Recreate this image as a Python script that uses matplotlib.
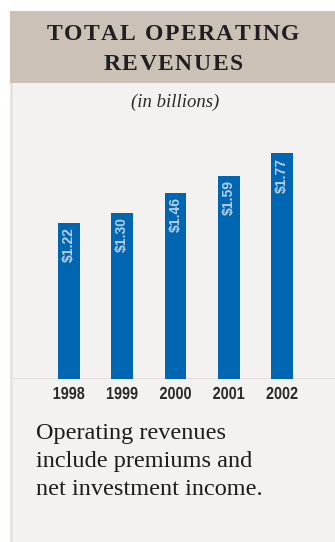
import matplotlib.pyplot as plt
from matplotlib.patches import Rectangle, PathPatch
from matplotlib.textpath import TextPath
from matplotlib.font_manager import FontProperties
from matplotlib.transforms import Affine2D, ScaledTranslation

years = ['1998', '1999', '2000', '2001', '2002']
revenues = [1.22, 1.30, 1.46, 1.59, 1.77]
title_lines = ['TOTAL OPERATING', 'REVENUES']
subtitle = '(in billions)'
note_lines = ['Operating revenues', 'include premiums and', 'net investment income.']

W, H = 335, 542
SERIF = ['Liberation Serif', 'DejaVu Serif']
SANS = ['Liberation Sans', 'DejaVu Sans']

fig = plt.figure(figsize=(W / 100, H / 100), dpi=100)
fig.patch.set_facecolor('white')


def fx(x):
    return x / W


def fy(y):
    return 1 - y / H


# panel background, header band and the thin rule down the left side
fig.add_artist(Rectangle((fx(10), 0), 1 - fx(10), fy(11), transform=fig.transFigure,
                         color='#f4f2f0', lw=0, zorder=0))
fig.add_artist(Rectangle((fx(10), fy(83)), 1 - fx(10), fy(11) - fy(83), transform=fig.transFigure,
                         color='#cbc1b6', lw=0, zorder=0))
fig.add_artist(Rectangle((fx(10), 0), fx(3), fy(83), transform=fig.transFigure,
                         color='#e8e3de', lw=0, zorder=0))


def tracked_text(s, xc, y, spacing, **kw):
    # draw a string letter by letter with extra space between the letters
    r = fig.canvas.get_renderer()

    def width(txt):
        t = fig.text(0, 0, txt, **kw)
        w = t.get_window_extent(r).width
        t.remove()
        return w

    widths = []
    for ch in s:
        if ch == ' ':
            widths.append(width('I I') - width('II'))
        else:
            widths.append(width(ch))
    total = sum(widths) + spacing * (len(s) - 1)
    x = xc - total / 2
    for ch, w in zip(s, widths):
        if ch != ' ':
            fig.text(fx(x), fy(y), ch, ha='left', va='baseline', **kw)
        x += w + spacing


for line, base in zip(title_lines, [40, 70]):
    tracked_text(line, 173, base, 1.5, fontsize=17, fontweight='bold',
                 family=SERIF, color='#231f20')

fig.text(fx(175), fy(102), subtitle, ha='center', va='center', fontsize=13.5,
         style='italic', family=SERIF, color='#2a2a2a')

# bar chart
ax = fig.add_axes([fx(12), fy(379), 1 - fx(12), fy(140) - fy(379)])
ax.set_facecolor('none')
ax.axis('off')
ax.set_xlim(-1.07, 4.996)
ax.set_ylim(0, 1.875)
ax.axhline(0, color='#e2ddd8', lw=2, zorder=1)
xs = range(len(years))
ax.bar(xs, revenues, width=0.41, color='#0066b2', zorder=2)


def narrow_label(x, s, size, squeeze, drop_in, color):
    # condensed bold label centred under bar x, drawn as a horizontally squeezed text path
    fp = FontProperties(family=SANS, weight='bold')
    path = TextPath((0, 0), s, size=size, prop=fp)
    ext = path.get_extents()
    tr = (Affine2D().translate(-(ext.x0 + ext.x1) / 2, -(ext.y0 + ext.y1) / 2)
          .scale(squeeze / 72, 1 / 72).translate(0, -drop_in)
          + fig.dpi_scale_trans + ScaledTranslation(x, 0, ax.transData))
    fig.add_artist(PathPatch(path, transform=tr, facecolor=color, lw=0))


for x, v, yr in zip(xs, revenues, years):
    ax.annotate(f'\\${v:.2f}', (x, v), xytext=(0, -3), textcoords='offset points',
                rotation=90, ha='center', va='top', fontsize=10, fontweight='bold',
                family=SANS, color='#b6cfec', zorder=3)
    narrow_label(x, yr, 12.5, 0.83, 0.14, '#2b2b2b')

for i, line in enumerate(note_lines):
    fig.text(fx(36), fy(439 + 28 * i), line, ha='left', va='baseline', fontsize=17.5,
             family=SERIF, color='#1c1c1c')

fig.savefig('out.png', dpi=100, facecolor=fig.get_facecolor())
